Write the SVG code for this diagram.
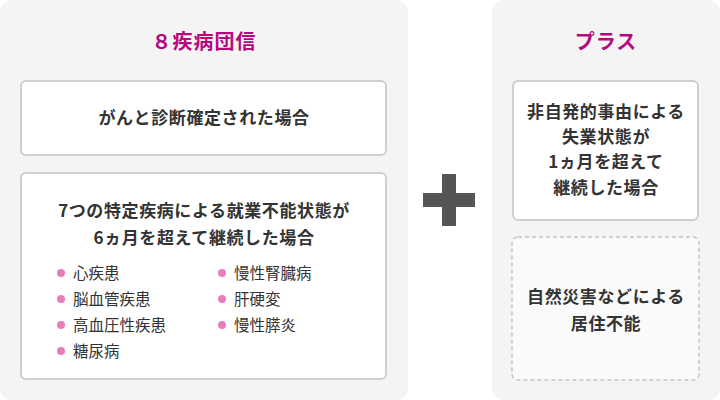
<svg xmlns="http://www.w3.org/2000/svg" width="720" height="400" viewBox="0 0 720 400">
<style>
.panel{fill:#f4f4f4}
.box{fill:#fff;stroke:#cfcfcf;stroke-width:2}
.dash{fill:#fafafa;stroke:#c4c4c4;stroke-width:1.5;stroke-dasharray:4 3}
text{font-family:"Noto Sans CJK JP","Noto Sans",sans-serif;fill:#333;font-weight:bold}
.t{fill:#b5087f;font-size:20px;letter-spacing:1px;text-anchor:middle}
.c{font-size:17px;letter-spacing:0.6px;text-anchor:middle}
.l{font-size:15.5px;font-weight:normal}
.dot{fill:#e87dbb}
</style>
<g id="left-panel">
<rect class="panel" x="0" y="0" width="408" height="400" rx="12"/>
<text class="t" x="204" y="49">８疾病団信</text>
</g>
<g id="cancer">
<rect class="box" x="21" y="81" width="365" height="74" rx="5"/>
<text class="c" x="204" y="124">がんと診断確定された場合</text>
</g>
<g id="diseases">
<rect class="box" x="21" y="173" width="365" height="206" rx="5"/>
<text class="c" x="204" y="217">7つの特定疾病による就業不能状態が</text>
<text class="c" x="204" y="244">6ヵ月を超えて継続した場合</text>
<circle class="dot" cx="61" cy="273" r="4"/><text class="l" x="73" y="279">心疾患</text>
<circle class="dot" cx="61" cy="299" r="4"/><text class="l" x="73" y="305">脳血管疾患</text>
<circle class="dot" cx="61" cy="325" r="4"/><text class="l" x="73" y="331">高血圧性疾患</text>
<circle class="dot" cx="61" cy="351" r="4"/><text class="l" x="73" y="357">糖尿病</text>
<circle class="dot" cx="222" cy="273" r="4"/><text class="l" x="234" y="279">慢性腎臓病</text>
<circle class="dot" cx="222" cy="299" r="4"/><text class="l" x="234" y="305">肝硬変</text>
<circle class="dot" cx="222" cy="325" r="4"/><text class="l" x="234" y="331">慢性膵炎</text>
</g>
<g id="plus">
<rect x="423" y="193" width="52" height="14" fill="#555"/>
<rect x="442" y="174" width="14" height="52" fill="#555"/>
</g>
<g id="right-panel">
<rect class="panel" x="492" y="0" width="228" height="400" rx="12"/>
<text class="t" x="606" y="49">プラス</text>
</g>
<g id="unemployment">
<rect class="box" x="513" y="81" width="185" height="139" rx="5"/>
<text class="c" x="606" y="118">非自発的事由による</text>
<text class="c" x="606" y="143">失業状態が</text>
<text class="c" x="606" y="168">1ヵ月を超えて</text>
<text class="c" x="606" y="194">継続した場合</text>
</g>
<g id="disaster">
<rect class="dash" x="512" y="237" width="187" height="143" rx="6"/>
<text class="c" x="606" y="303">自然災害などによる</text>
<text class="c" x="606" y="330">居住不能</text>
</g>
<g id="connectors"></g>
</svg>
